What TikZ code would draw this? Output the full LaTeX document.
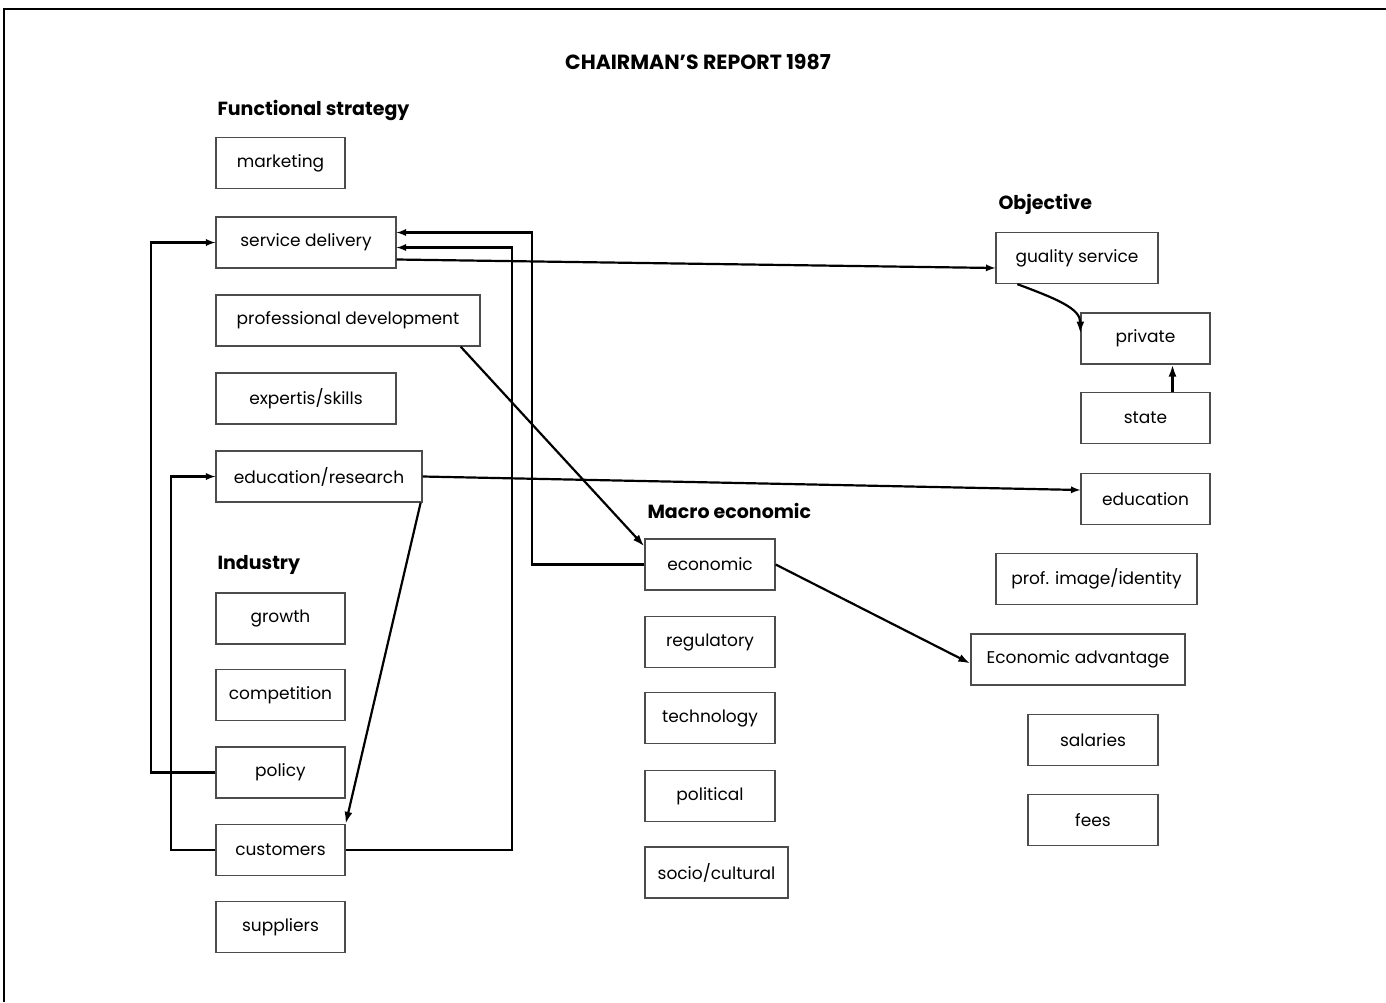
\documentclass[tikz,border=0pt]{standalone}
\usepackage{fontspec}
\setmainfont{Poppins}
\usetikzlibrary{calc,arrows.meta}

\tikzset{
  box/.style={draw=black!70,line width=1.3pt,minimum height=51pt,inner sep=0pt,
    font=\fontsize{17}{20}\selectfont},
  head/.style={anchor=west,font=\bfseries\fontsize{19}{22}\selectfont},
  link/.style={line width=2.2pt,-latex},
  bigtip/.style={line width=2.2pt,-{Latex[length=12pt,width=8pt]}},
}

\begin{document}
\begin{tikzpicture}[x=1pt,y=-1pt]
\useasboundingbox (0,0) rectangle (1386,1002);
% frame and title
\draw[line width=2.2pt] (4,1002) -- (4,9) -- (1386,9);
\node[font=\bfseries\fontsize{20.5}{24}\selectfont] (title) at (698,62) {CHAIRMAN’S REPORT 1987};

% Functional strategy
\begin{scope}
\node[head] (fshead) at (214,110) {Functional strategy};
\node[box,minimum width=129pt] (mkt) at (280.5,163) {marketing};
\node[box,minimum width=180pt] (serv) at (306,242.5) {service delivery};
\node[box,minimum width=264pt] (profdev) at (348,320.5) {professional development};
\node[box,minimum width=180pt] (skills) at (306,398.5) {expertis/skills};
\node[box,minimum width=206pt] (edures) at (319,476.5) {education/research};
\end{scope}

% Industry
\begin{scope}
\node[head] (indhead) at (214,565) {Industry};
\node[box,minimum width=129pt] (growth) at (280.5,618.5) {growth};
\node[box,minimum width=129pt] (compet) at (280.5,695) {competition};
\node[box,minimum width=129pt] (policy) at (280.5,772.5) {policy};
\node[box,minimum width=129pt] (cust) at (280.5,850) {customers};
\node[box,minimum width=129pt] (suppl) at (280.5,927) {suppliers};
\end{scope}

% Macro economic
\begin{scope}
\node[head] (machead) at (644,511) {Macro economic};
\node[box,minimum width=130pt] (econ) at (710,564.5) {economic};
\node[box,minimum width=130pt] (regul) at (710,642) {regulatory};
\node[box,minimum width=130pt] (techn) at (710,718) {technology};
\node[box,minimum width=130pt] (polit) at (710,796) {political};
\node[box,minimum width=143pt] (socio) at (716.5,872.5) {socio/cultural};
\end{scope}

% Objective
\begin{scope}
\node[head] (objhead) at (995,204) {Objective};
\node[box,minimum width=162pt] (quality) at (1077,258) {guality service};
\node[box,minimum width=129pt] (private) at (1145.5,338.5) {private};
\node[box,minimum width=129pt] (state) at (1145.5,418) {state};
\node[box,minimum width=129pt] (educ) at (1145.5,499) {education};
\node[box,minimum width=201pt] (image) at (1096.5,579) {prof. image/identity};
\node[box,minimum width=214pt] (advant) at (1078,659.5) {Economic advantage};
\node[box,minimum width=130pt] (salar) at (1093,740) {salaries};
\node[box,minimum width=130pt] (fees) at (1093,820) {fees};
\end{scope}

% links
\draw[link] (policy.west) -- ++(-64,0) |- (serv.west);
\draw[link] (cust.west) -- ++(-44,0) |- (edures.west);
\draw[link] (cust.east) -- ++(166,0) |- ([yshift=-5pt]serv.east);
\draw[link] (econ.west) -- ++(-112,0) |- ([yshift=10pt]serv.east);
\draw[link] ([yshift=-17pt]serv.east) -- ([yshift=-10pt]quality.west);
\draw[link] (edures.east) -- ([yshift=9pt]educ.west);
\draw[bigtip] ([xshift=-20pt]profdev.south east) -- ([yshift=-8pt]econ.north west);
\draw[bigtip] ([xshift=-2pt]edures.south east) -- (cust.north east);
\draw[bigtip] (econ.east) -- ([yshift=-4pt]advant.west);
\draw[bigtip] ([xshift=22pt]quality.south west) .. controls +(40,15) and +(0,-25) .. ([yshift=5pt]private.west);
\draw[bigtip] ([xshift=27pt]state.north) -- ([xshift=27pt]private.south);
\end{tikzpicture}
\end{document}
